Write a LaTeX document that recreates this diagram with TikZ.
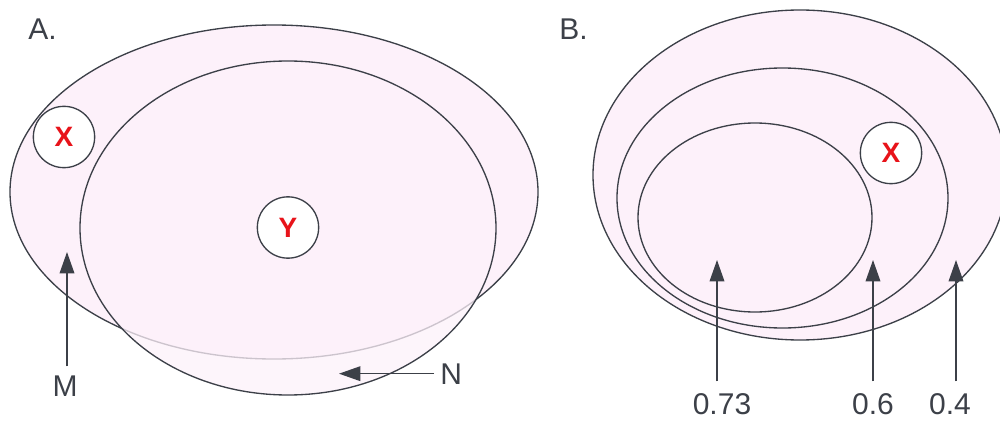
\documentclass[tikz,border=0pt]{standalone}
\usepackage{fontspec}
\setmainfont{Liberation Sans}
\usetikzlibrary{arrows.meta}
\definecolor{linec}{HTML}{3C4048}
\definecolor{fillc}{HTML}{FDF1FA}
\definecolor{redc}{HTML}{E8131A}
\begin{document}
\begin{tikzpicture}[x=0.75pt,y=-0.75pt,
  region/.style={draw=linec, line width=1pt, fill=fillc},
  hole/.style={circle, draw=linec, line width=1pt, fill=white, minimum size=46pt, inner sep=0pt, text=redc, font=\fontsize{21}{21}\selectfont\bfseries},
  lbl/.style={text=linec, font=\fontsize{22.5}{22.5}\selectfont, inner sep=0pt},
  arr/.style={draw=linec, line width=1pt, -{Triangle[width=11pt,length=16pt]}}]
\useasboundingbox (0,0) rectangle (1000,421);
% ---------- Panel A ----------
\node[lbl, anchor=base west] (A) at (28,39) {A.};
\draw[region] (274,192) ellipse [x radius=264, y radius=167];
\fill[fillc, fill opacity=0.75] (288,228) ellipse [x radius=208, y radius=167];
\draw[linec, line width=1pt] (288,228) ellipse [x radius=208, y radius=167];
\node[hole] (XA) at (64,137) {X};
\node[hole] (Y) at (288,227.5) {Y};
\node[lbl, anchor=base] (M) at (65,396) {M};
\coordinate (Mtip) at (67,252);
\draw[arr, shorten <=6.5pt] (M.north -| Mtip) -- (Mtip);
\node[lbl, anchor=base west] (N) at (440,384) {N};
\coordinate (Ntip) at (339,372);
\draw[arr, shorten <=4.5pt] (N.west) -- (N.west -| Ntip);
% ---------- Panel B ----------
\node[lbl, anchor=base west] (B) at (559,39) {B.};
\draw[region] (800,175) ellipse [x radius=207, y radius=165];
\draw[region] (782.5,198) ellipse [x radius=165.5, y radius=130];
\draw[region] (755,217.5) ellipse [x radius=117, y radius=94.5];
\node[hole] (XB) at (891,153) {X};
\node[lbl, anchor=base] (L73) at (722,414) {0.73};
\node[lbl, anchor=base] (L6) at (873,414) {0.6};
\node[lbl, anchor=base] (L4) at (950,414) {0.4};
\coordinate (T73) at (717,260);
\coordinate (T6) at (873,260);
\coordinate (T4) at (956,260);
\draw[arr, shorten <=8.5pt] (L73.north -| T73) -- (T73);
\draw[arr, shorten <=8.5pt] (L6.north -| T6) -- (T6);
\draw[arr, shorten <=8.5pt] (L4.north -| T4) -- (T4);
\end{tikzpicture}
\end{document}
